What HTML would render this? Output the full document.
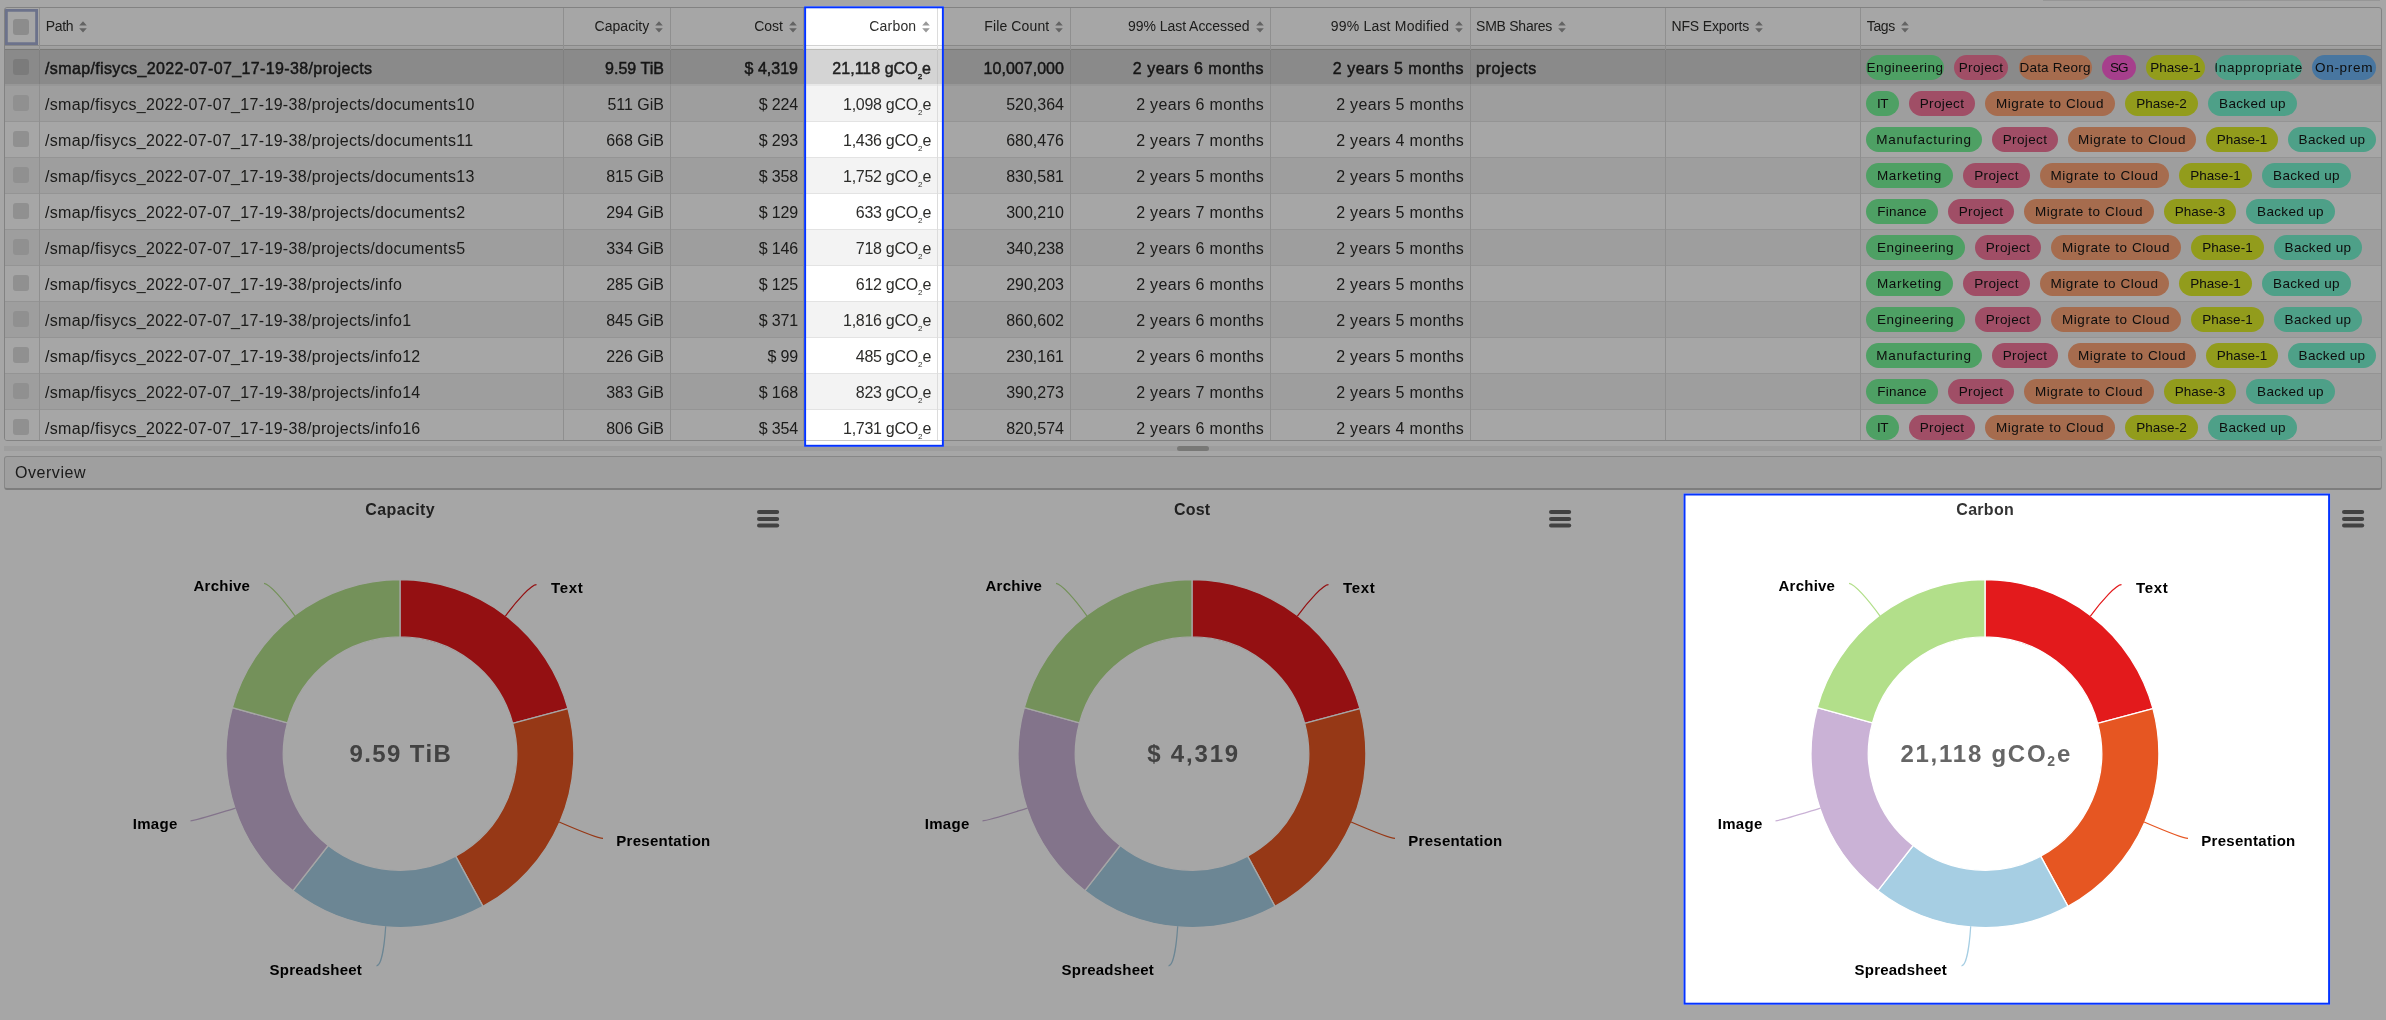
<!DOCTYPE html><html><head><meta charset="utf-8"><title>Overview</title><style>
*{box-sizing:border-box}
html,body{margin:0;padding:0}
body{width:2386px;height:1020px;overflow:hidden;background:#fff;font-family:"Liberation Sans",sans-serif;color:#333;position:relative}
.abs{position:absolute}
.ov{will-change:transform}
#tbl{will-change:transform;position:absolute;left:4px;top:7px;width:2378px;height:434px;border:1px solid #c8c8c8;border-radius:3px;overflow:hidden;background:#fff}
.vl{position:absolute;top:0;bottom:0;width:1px;background:#dcdcdc}
.hl{position:absolute;left:0;right:0;height:1px;background:#e0e0e0}
.row{position:absolute;left:0;right:0;height:36px}
.th{position:absolute;top:0px;height:36px;line-height:36px;font-size:14px;white-space:nowrap;color:#2e2e2c}
.td{position:absolute;top:1px;height:35px;line-height:35px;font-size:16px;white-space:nowrap;color:#2c2c2a;letter-spacing:0.32px}
.r{text-align:right}
.td.cap,.td.fc{letter-spacing:0}
.td.cost{letter-spacing:-0.15px}
.td.carb{letter-spacing:-0.28px}
.sel .td{font-weight:normal;-webkit-text-stroke:0.45px #222;color:#222;letter-spacing:0.37px}
.sel .td.cap{letter-spacing:0.04px}
.sel .td.cost{letter-spacing:0}
.sel .td.carb{letter-spacing:0.02px}
.sel .td.fc{letter-spacing:0.04px}
.sel .td.la,.sel .td.lm{letter-spacing:0.53px}
.sel .td.smb{letter-spacing:0.61px}
.cb{position:absolute;left:8px;width:16px;height:16px;border-radius:3px;background:#e4e4e4}
.si{display:inline-block;vertical-align:middle;width:8px;height:12px;margin-left:6px;position:relative;top:0px}
.tags{position:absolute;left:1861px;display:flex;gap:10px;height:25px}
.tag{height:25px;border-radius:12.5px;font-size:13.5px;line-height:25px;display:flex;justify-content:center;overflow:hidden;white-space:nowrap;color:#141414;flex:none}
sub.c{font-size:8px;vertical-align:baseline;position:relative;top:5px;letter-spacing:0}
</style></head><body>
<div class="abs" style="left:2043px;top:0;width:337px;height:1px;background:#e6e6e6"></div>
<div id="tbl">
<div class="hl" style="top:37px;background:#d2d2d2"></div>
<div class="hl" style="top:38px;height:3px;background:linear-gradient(#fafafa,#f0f0f0)"></div>
<div class="hl" style="top:41px;background:#bcbcb8"></div>
<div class="row sel" style="top:42px;background:#d4d4d4">
<div class="hl" style="top:34px;height:2px;background:#e8e8e8"></div>
<div class="cb" style="top:9px;background:#bebebe"></div>
<div class="td path" style="left:40px">/smap/fisycs_2022-07-07_17-19-38/projects</div>
<div class="td r cap" style="right:1717px">9.59 TiB</div>
<div class="td r cost" style="right:1583px">$ 4,319</div>
<div class="td r carb" style="right:1450px">21,118 gCO<sub class="c">2</sub>e</div>
<div class="td r fc" style="right:1317px">10,007,000</div>
<div class="td r la" style="right:1117px">2 years 6 months</div>
<div class="td r lm" style="right:917px">2 years 5 months</div>
<div class="td smb" style="left:1471px">projects</div>
<div class="tags" style="top:5px">
<div class="tag" style="position:absolute;left:0px;width:78px;background:#78f69a;letter-spacing:0.45px">Engineering</div>
<div class="tag" style="position:absolute;left:88.20000000000005px;width:53.6px;background:#f6789d;letter-spacing:0.37px">Project</div>
<div class="tag" style="position:absolute;left:152.5px;width:73.2px;background:#ffa678;letter-spacing:0.23px">Data Reorg</div>
<div class="tag" style="position:absolute;left:236px;width:33.6px;background:#ff62d7;letter-spacing:-0.9px">SG</div>
<div class="tag" style="position:absolute;left:280px;width:59px;background:#e1f02b;letter-spacing:0.01px">Phase-1</div>
<div class="tag" style="position:absolute;left:349.1999999999998px;width:86.8px;background:#78f6d1;letter-spacing:0.7px">Inappropriate</div>
<div class="tag" style="position:absolute;left:446.3000000000002px;width:63.6px;background:#6fb6f6;letter-spacing:0.68px">On-prem</div>
</div>
</div>
<div class="row" style="top:78px;background:#f3f3f3">
<div class="hl" style="top:35px;background:#e3e3e3"></div>
<div class="cb" style="top:9px;background:#dddddd"></div>
<div class="td path" style="left:40px">/smap/fisycs_2022-07-07_17-19-38/projects/documents10</div>
<div class="td r cap" style="right:1717px">511 GiB</div>
<div class="td r cost" style="right:1583px">$ 224</div>
<div class="td r carb" style="right:1450px">1,098 gCO<sub class="c">2</sub>e</div>
<div class="td r fc" style="right:1317px">520,364</div>
<div class="td r la" style="right:1117px">2 years 6 months</div>
<div class="td r lm" style="right:917px">2 years 5 months</div>
<div class="tags" style="top:5px">
<div class="tag" style="width:33px;background:#78f69a;letter-spacing:-0.5px">IT</div>
<div class="tag" style="width:66px;background:#f6789d;letter-spacing:0.37px">Project</div>
<div class="tag" style="width:130px;background:#ffa678;letter-spacing:0.56px">Migrate to Cloud</div>
<div class="tag" style="width:73px;background:#e1f02b;letter-spacing:0.01px">Phase-2</div>
<div class="tag" style="width:89px;background:#78f6d1;letter-spacing:0.34px">Backed up</div>
</div>
</div>
<div class="row" style="top:114px;background:#fff">
<div class="hl" style="top:35px;background:#e3e3e3"></div>
<div class="cb" style="top:9px;background:#dddddd"></div>
<div class="td path" style="left:40px">/smap/fisycs_2022-07-07_17-19-38/projects/documents11</div>
<div class="td r cap" style="right:1717px">668 GiB</div>
<div class="td r cost" style="right:1583px">$ 293</div>
<div class="td r carb" style="right:1450px">1,436 gCO<sub class="c">2</sub>e</div>
<div class="td r fc" style="right:1317px">680,476</div>
<div class="td r la" style="right:1117px">2 years 7 months</div>
<div class="td r lm" style="right:917px">2 years 4 months</div>
<div class="tags" style="top:5px">
<div class="tag" style="width:116px;background:#78f69a;letter-spacing:0.75px">Manufacturing</div>
<div class="tag" style="width:66px;background:#f6789d;letter-spacing:0.37px">Project</div>
<div class="tag" style="width:128px;background:#ffa678;letter-spacing:0.56px">Migrate to Cloud</div>
<div class="tag" style="width:72px;background:#e1f02b;letter-spacing:0.01px">Phase-1</div>
<div class="tag" style="width:88px;background:#78f6d1;letter-spacing:0.34px">Backed up</div>
</div>
</div>
<div class="row" style="top:150px;background:#f3f3f3">
<div class="hl" style="top:35px;background:#e3e3e3"></div>
<div class="cb" style="top:9px;background:#dddddd"></div>
<div class="td path" style="left:40px">/smap/fisycs_2022-07-07_17-19-38/projects/documents13</div>
<div class="td r cap" style="right:1717px">815 GiB</div>
<div class="td r cost" style="right:1583px">$ 358</div>
<div class="td r carb" style="right:1450px">1,752 gCO<sub class="c">2</sub>e</div>
<div class="td r fc" style="right:1317px">830,581</div>
<div class="td r la" style="right:1117px">2 years 5 months</div>
<div class="td r lm" style="right:917px">2 years 5 months</div>
<div class="tags" style="top:5px">
<div class="tag" style="width:87px;background:#78f69a;letter-spacing:0.64px">Marketing</div>
<div class="tag" style="width:67px;background:#f6789d;letter-spacing:0.37px">Project</div>
<div class="tag" style="width:129px;background:#ffa678;letter-spacing:0.56px">Migrate to Cloud</div>
<div class="tag" style="width:73px;background:#e1f02b;letter-spacing:0.01px">Phase-1</div>
<div class="tag" style="width:89px;background:#78f6d1;letter-spacing:0.34px">Backed up</div>
</div>
</div>
<div class="row" style="top:186px;background:#fff">
<div class="hl" style="top:35px;background:#e3e3e3"></div>
<div class="cb" style="top:9px;background:#dddddd"></div>
<div class="td path" style="left:40px">/smap/fisycs_2022-07-07_17-19-38/projects/documents2</div>
<div class="td r cap" style="right:1717px">294 GiB</div>
<div class="td r cost" style="right:1583px">$ 129</div>
<div class="td r carb" style="right:1450px">633 gCO<sub class="c">2</sub>e</div>
<div class="td r fc" style="right:1317px">300,210</div>
<div class="td r la" style="right:1117px">2 years 7 months</div>
<div class="td r lm" style="right:917px">2 years 5 months</div>
<div class="tags" style="top:5px">
<div class="tag" style="width:72px;background:#78f69a;letter-spacing:0.21px">Finance</div>
<div class="tag" style="width:66px;background:#f6789d;letter-spacing:0.37px">Project</div>
<div class="tag" style="width:130px;background:#ffa678;letter-spacing:0.56px">Migrate to Cloud</div>
<div class="tag" style="width:72px;background:#e1f02b;letter-spacing:0.01px">Phase-3</div>
<div class="tag" style="width:89px;background:#78f6d1;letter-spacing:0.34px">Backed up</div>
</div>
</div>
<div class="row" style="top:222px;background:#f3f3f3">
<div class="hl" style="top:35px;background:#e3e3e3"></div>
<div class="cb" style="top:9px;background:#dddddd"></div>
<div class="td path" style="left:40px">/smap/fisycs_2022-07-07_17-19-38/projects/documents5</div>
<div class="td r cap" style="right:1717px">334 GiB</div>
<div class="td r cost" style="right:1583px">$ 146</div>
<div class="td r carb" style="right:1450px">718 gCO<sub class="c">2</sub>e</div>
<div class="td r fc" style="right:1317px">340,238</div>
<div class="td r la" style="right:1117px">2 years 6 months</div>
<div class="td r lm" style="right:917px">2 years 5 months</div>
<div class="tags" style="top:5px">
<div class="tag" style="width:99px;background:#78f69a;letter-spacing:0.45px">Engineering</div>
<div class="tag" style="width:66px;background:#f6789d;letter-spacing:0.37px">Project</div>
<div class="tag" style="width:130px;background:#ffa678;letter-spacing:0.56px">Migrate to Cloud</div>
<div class="tag" style="width:73px;background:#e1f02b;letter-spacing:0.01px">Phase-1</div>
<div class="tag" style="width:88px;background:#78f6d1;letter-spacing:0.34px">Backed up</div>
</div>
</div>
<div class="row" style="top:258px;background:#fff">
<div class="hl" style="top:35px;background:#e3e3e3"></div>
<div class="cb" style="top:9px;background:#dddddd"></div>
<div class="td path" style="left:40px">/smap/fisycs_2022-07-07_17-19-38/projects/info</div>
<div class="td r cap" style="right:1717px">285 GiB</div>
<div class="td r cost" style="right:1583px">$ 125</div>
<div class="td r carb" style="right:1450px">612 gCO<sub class="c">2</sub>e</div>
<div class="td r fc" style="right:1317px">290,203</div>
<div class="td r la" style="right:1117px">2 years 6 months</div>
<div class="td r lm" style="right:917px">2 years 5 months</div>
<div class="tags" style="top:5px">
<div class="tag" style="width:87px;background:#78f69a;letter-spacing:0.64px">Marketing</div>
<div class="tag" style="width:67px;background:#f6789d;letter-spacing:0.37px">Project</div>
<div class="tag" style="width:129px;background:#ffa678;letter-spacing:0.56px">Migrate to Cloud</div>
<div class="tag" style="width:73px;background:#e1f02b;letter-spacing:0.01px">Phase-1</div>
<div class="tag" style="width:89px;background:#78f6d1;letter-spacing:0.34px">Backed up</div>
</div>
</div>
<div class="row" style="top:294px;background:#f3f3f3">
<div class="hl" style="top:35px;background:#e3e3e3"></div>
<div class="cb" style="top:9px;background:#dddddd"></div>
<div class="td path" style="left:40px">/smap/fisycs_2022-07-07_17-19-38/projects/info1</div>
<div class="td r cap" style="right:1717px">845 GiB</div>
<div class="td r cost" style="right:1583px">$ 371</div>
<div class="td r carb" style="right:1450px">1,816 gCO<sub class="c">2</sub>e</div>
<div class="td r fc" style="right:1317px">860,602</div>
<div class="td r la" style="right:1117px">2 years 6 months</div>
<div class="td r lm" style="right:917px">2 years 5 months</div>
<div class="tags" style="top:5px">
<div class="tag" style="width:99px;background:#78f69a;letter-spacing:0.45px">Engineering</div>
<div class="tag" style="width:66px;background:#f6789d;letter-spacing:0.37px">Project</div>
<div class="tag" style="width:130px;background:#ffa678;letter-spacing:0.56px">Migrate to Cloud</div>
<div class="tag" style="width:73px;background:#e1f02b;letter-spacing:0.01px">Phase-1</div>
<div class="tag" style="width:88px;background:#78f6d1;letter-spacing:0.34px">Backed up</div>
</div>
</div>
<div class="row" style="top:330px;background:#fff">
<div class="hl" style="top:35px;background:#e3e3e3"></div>
<div class="cb" style="top:9px;background:#dddddd"></div>
<div class="td path" style="left:40px">/smap/fisycs_2022-07-07_17-19-38/projects/info12</div>
<div class="td r cap" style="right:1717px">226 GiB</div>
<div class="td r cost" style="right:1583px">$ 99</div>
<div class="td r carb" style="right:1450px">485 gCO<sub class="c">2</sub>e</div>
<div class="td r fc" style="right:1317px">230,161</div>
<div class="td r la" style="right:1117px">2 years 6 months</div>
<div class="td r lm" style="right:917px">2 years 5 months</div>
<div class="tags" style="top:5px">
<div class="tag" style="width:116px;background:#78f69a;letter-spacing:0.75px">Manufacturing</div>
<div class="tag" style="width:66px;background:#f6789d;letter-spacing:0.37px">Project</div>
<div class="tag" style="width:128px;background:#ffa678;letter-spacing:0.56px">Migrate to Cloud</div>
<div class="tag" style="width:72px;background:#e1f02b;letter-spacing:0.01px">Phase-1</div>
<div class="tag" style="width:88px;background:#78f6d1;letter-spacing:0.34px">Backed up</div>
</div>
</div>
<div class="row" style="top:366px;background:#f3f3f3">
<div class="hl" style="top:35px;background:#e3e3e3"></div>
<div class="cb" style="top:9px;background:#dddddd"></div>
<div class="td path" style="left:40px">/smap/fisycs_2022-07-07_17-19-38/projects/info14</div>
<div class="td r cap" style="right:1717px">383 GiB</div>
<div class="td r cost" style="right:1583px">$ 168</div>
<div class="td r carb" style="right:1450px">823 gCO<sub class="c">2</sub>e</div>
<div class="td r fc" style="right:1317px">390,273</div>
<div class="td r la" style="right:1117px">2 years 7 months</div>
<div class="td r lm" style="right:917px">2 years 5 months</div>
<div class="tags" style="top:5px">
<div class="tag" style="width:72px;background:#78f69a;letter-spacing:0.21px">Finance</div>
<div class="tag" style="width:66px;background:#f6789d;letter-spacing:0.37px">Project</div>
<div class="tag" style="width:130px;background:#ffa678;letter-spacing:0.56px">Migrate to Cloud</div>
<div class="tag" style="width:72px;background:#e1f02b;letter-spacing:0.01px">Phase-3</div>
<div class="tag" style="width:89px;background:#78f6d1;letter-spacing:0.34px">Backed up</div>
</div>
</div>
<div class="row" style="top:402px;background:#fff">
<div class="hl" style="top:35px;background:#e3e3e3"></div>
<div class="cb" style="top:9px;background:#dddddd"></div>
<div class="td path" style="left:40px">/smap/fisycs_2022-07-07_17-19-38/projects/info16</div>
<div class="td r cap" style="right:1717px">806 GiB</div>
<div class="td r cost" style="right:1583px">$ 354</div>
<div class="td r carb" style="right:1450px">1,731 gCO<sub class="c">2</sub>e</div>
<div class="td r fc" style="right:1317px">820,574</div>
<div class="td r la" style="right:1117px">2 years 6 months</div>
<div class="td r lm" style="right:917px">2 years 4 months</div>
<div class="tags" style="top:5px">
<div class="tag" style="width:33px;background:#78f69a;letter-spacing:-0.5px">IT</div>
<div class="tag" style="width:66px;background:#f6789d;letter-spacing:0.37px">Project</div>
<div class="tag" style="width:130px;background:#ffa678;letter-spacing:0.56px">Migrate to Cloud</div>
<div class="tag" style="width:73px;background:#e1f02b;letter-spacing:0.01px">Phase-2</div>
<div class="tag" style="width:89px;background:#78f6d1;letter-spacing:0.34px">Backed up</div>
</div>
</div>
<div class="vl" style="left:34px"></div>
<div class="vl" style="left:34px;top:42px;bottom:auto;height:34px;background:#c5c5c5"></div>
<div class="vl" style="left:558px"></div>
<div class="vl" style="left:558px;top:42px;bottom:auto;height:34px;background:#c5c5c5"></div>
<div class="vl" style="left:665px"></div>
<div class="vl" style="left:665px;top:42px;bottom:auto;height:34px;background:#c5c5c5"></div>
<div class="vl" style="left:798px"></div>
<div class="vl" style="left:798px;top:42px;bottom:auto;height:34px;background:#c5c5c5"></div>
<div class="vl" style="left:932px"></div>
<div class="vl" style="left:932px;top:42px;bottom:auto;height:34px;background:#c5c5c5"></div>
<div class="vl" style="left:1065px"></div>
<div class="vl" style="left:1065px;top:42px;bottom:auto;height:34px;background:#c5c5c5"></div>
<div class="vl" style="left:1265px"></div>
<div class="vl" style="left:1265px;top:42px;bottom:auto;height:34px;background:#c5c5c5"></div>
<div class="vl" style="left:1465px"></div>
<div class="vl" style="left:1465px;top:42px;bottom:auto;height:34px;background:#c5c5c5"></div>
<div class="vl" style="left:1660px"></div>
<div class="vl" style="left:1660px;top:42px;bottom:auto;height:34px;background:#c5c5c5"></div>
<div class="vl" style="left:1855px"></div>
<div class="vl" style="left:1855px;top:42px;bottom:auto;height:34px;background:#c5c5c5"></div>
<div class="abs" style="left:0;top:1px;width:33px;height:36px;box-shadow:inset 0 0 0 2.8px #a6b0d6"></div>
<div class="cb" style="top:11px;background:#d7d7d7"></div>
<div class="th hpath" style="left:40.7px"><span class="ht" style="letter-spacing:-0.3px">Path</span><svg class="si" viewBox="0 0 8 12"><path d="M0.2 4.6 L4 0.3 L7.8 4.6 Z M0.2 7.2 L7.8 7.2 L4 11.6 Z" fill="#999"/></svg></div>
<div class="th r hcap" style="right:1717.7px"><span class="ht" style="letter-spacing:0.04px">Capacity</span><svg class="si" viewBox="0 0 8 12"><path d="M0.2 4.6 L4 0.3 L7.8 4.6 Z M0.2 7.2 L7.8 7.2 L4 11.6 Z" fill="#999"/></svg></div>
<div class="th r hcost" style="right:1584px"><span class="ht" style="letter-spacing:0px">Cost</span><svg class="si" viewBox="0 0 8 12"><path d="M0.2 4.6 L4 0.3 L7.8 4.6 Z M0.2 7.2 L7.8 7.2 L4 11.6 Z" fill="#999"/></svg></div>
<div class="th r hcarb" style="right:1450.7px"><span class="ht" style="letter-spacing:0.18px">Carbon</span><svg class="si" viewBox="0 0 8 12"><path d="M0.2 4.6 L4 0.3 L7.8 4.6 Z M0.2 7.2 L7.8 7.2 L4 11.6 Z" fill="#999"/></svg></div>
<div class="th r hfc" style="right:1317.7px"><span class="ht" style="letter-spacing:0.12px">File Count</span><svg class="si" viewBox="0 0 8 12"><path d="M0.2 4.6 L4 0.3 L7.8 4.6 Z M0.2 7.2 L7.8 7.2 L4 11.6 Z" fill="#999"/></svg></div>
<div class="th r hla" style="right:1117.5px"><span class="ht" style="letter-spacing:-0.04px">99% Last Accessed</span><svg class="si" viewBox="0 0 8 12"><path d="M0.2 4.6 L4 0.3 L7.8 4.6 Z M0.2 7.2 L7.8 7.2 L4 11.6 Z" fill="#999"/></svg></div>
<div class="th r hlm" style="right:917.7px"><span class="ht" style="letter-spacing:0.2px">99% Last Modified</span><svg class="si" viewBox="0 0 8 12"><path d="M0.2 4.6 L4 0.3 L7.8 4.6 Z M0.2 7.2 L7.8 7.2 L4 11.6 Z" fill="#999"/></svg></div>
<div class="th hsmb" style="left:1471.1px"><span class="ht" style="letter-spacing:-0.26px">SMB Shares</span><svg class="si" viewBox="0 0 8 12"><path d="M0.2 4.6 L4 0.3 L7.8 4.6 Z M0.2 7.2 L7.8 7.2 L4 11.6 Z" fill="#999"/></svg></div>
<div class="th hnfs" style="left:1666.5px"><span class="ht" style="letter-spacing:-0.15px">NFS Exports</span><svg class="si" viewBox="0 0 8 12"><path d="M0.2 4.6 L4 0.3 L7.8 4.6 Z M0.2 7.2 L7.8 7.2 L4 11.6 Z" fill="#999"/></svg></div>
<div class="th htags" style="left:1861.8px"><span class="ht" style="letter-spacing:-0.4px">Tags</span><svg class="si" viewBox="0 0 8 12"><path d="M0.2 4.6 L4 0.3 L7.8 4.6 Z M0.2 7.2 L7.8 7.2 L4 11.6 Z" fill="#999"/></svg></div>
</div>
<div class="abs" style="left:4px;top:446px;width:2378px;height:5px;background:#f2f2f2"></div>
<div class="abs" style="left:1177px;top:446px;width:32px;height:5px;border-radius:2.5px;background:#b9b9b6"></div>
<div class="abs" style="left:4px;top:456px;width:2378px;height:34px;border:1px solid #d0d0d0;border-bottom:2px solid #c0c0c0;border-radius:3px;background:#f4f4f4"></div>
<div class="abs ov" style="left:15px;top:457px;height:31px;line-height:31px;font-size:16px;color:#2a2a2a;letter-spacing:0.55px">Overview</div>
<svg class="abs" style="left:0;top:0" width="2386" height="1020" viewBox="0 0 2386 1020" font-family="Liberation Sans, sans-serif">
<path d="M400.00 579.70 A173.9 173.9 0 0 1 567.97 708.59 L512.68 723.41 A116.65 116.65 0 0 0 400.00 636.95 Z" fill="#e31a1c" stroke="#fff" stroke-width="1.3" stroke-linejoin="round"/>
<path d="M567.97 708.59 A173.9 173.9 0 0 1 482.98 906.43 L455.66 856.11 A116.65 116.65 0 0 0 512.68 723.41 Z" fill="#e65622" stroke="#fff" stroke-width="1.3" stroke-linejoin="round"/>
<path d="M482.98 906.43 A173.9 173.9 0 0 1 292.94 890.64 L328.18 845.52 A116.65 116.65 0 0 0 455.66 856.11 Z" fill="#a6cee3" stroke="#fff" stroke-width="1.3" stroke-linejoin="round"/>
<path d="M292.94 890.64 A173.9 173.9 0 0 1 232.26 707.71 L287.48 722.82 A116.65 116.65 0 0 0 328.18 845.52 Z" fill="#cab2d6" stroke="#fff" stroke-width="1.3" stroke-linejoin="round"/>
<path d="M232.26 707.71 A173.9 173.9 0 0 1 400.00 579.70 L400.00 636.95 A116.65 116.65 0 0 0 287.48 722.82 Z" fill="#b2df8a" stroke="#fff" stroke-width="1.3" stroke-linejoin="round"/>
<path d="M536.5 584.6 C531.5 584.6 517.0 600.0 505.4 616.2" fill="none" stroke="#e31a1c" stroke-width="1.25"/>
<path d="M603.0 838.4 C598.0 838.4 577.0 829.7 559.1 822.0" fill="none" stroke="#e65622" stroke-width="1.25"/>
<path d="M376.5 965.8 C381.5 965.8 384.5 945.0 385.7 926.2" fill="none" stroke="#a6cee3" stroke-width="1.25"/>
<path d="M190.5 820.8 C195.5 820.8 218.0 813.5 235.6 808.1" fill="none" stroke="#cab2d6" stroke-width="1.25"/>
<path d="M264.0 583.3 C269.0 583.3 283.5 600.0 294.9 615.9" fill="none" stroke="#b2df8a" stroke-width="1.25"/>
<text x="551.0" y="593.0" text-anchor="start" font-size="15" font-weight="bold" fill="#000" letter-spacing="0.65" class="dl">Text</text>
<text x="616.3" y="846.0" text-anchor="start" font-size="15" font-weight="bold" fill="#000" letter-spacing="0.28" class="dl">Presentation</text>
<text x="362.0" y="975.3" text-anchor="end" font-size="15" font-weight="bold" fill="#000" letter-spacing="0.22" class="dl">Spreadsheet</text>
<text x="177.8" y="829.2" text-anchor="end" font-size="15" font-weight="bold" fill="#000" letter-spacing="0.36" class="dl">Image</text>
<text x="250.2" y="590.8" text-anchor="end" font-size="15" font-weight="bold" fill="#000" letter-spacing="0.23" class="dl">Archive</text>
<text x="400.2" y="515.0" text-anchor="middle" font-size="16" font-weight="bold" fill="#333" letter-spacing="0.37" class="ct">Capacity</text>
<text x="400.8" y="761.9" text-anchor="middle" font-size="24" font-weight="bold" fill="#666" letter-spacing="1.4" class="cc">9.59 TiB</text>
<path d="M759.0 512.0H777.2" stroke="#666" stroke-width="4" stroke-linecap="round" fill="none"/>
<path d="M759.0 518.9H777.2" stroke="#666" stroke-width="4" stroke-linecap="round" fill="none"/>
<path d="M759.0 525.4H777.2" stroke="#666" stroke-width="4" stroke-linecap="round" fill="none"/>
<path d="M1192.00 579.70 A173.9 173.9 0 0 1 1359.97 708.59 L1304.68 723.41 A116.65 116.65 0 0 0 1192.00 636.95 Z" fill="#e31a1c" stroke="#fff" stroke-width="1.3" stroke-linejoin="round"/>
<path d="M1359.97 708.59 A173.9 173.9 0 0 1 1274.98 906.43 L1247.66 856.11 A116.65 116.65 0 0 0 1304.68 723.41 Z" fill="#e65622" stroke="#fff" stroke-width="1.3" stroke-linejoin="round"/>
<path d="M1274.98 906.43 A173.9 173.9 0 0 1 1084.94 890.64 L1120.18 845.52 A116.65 116.65 0 0 0 1247.66 856.11 Z" fill="#a6cee3" stroke="#fff" stroke-width="1.3" stroke-linejoin="round"/>
<path d="M1084.94 890.64 A173.9 173.9 0 0 1 1024.26 707.71 L1079.48 722.82 A116.65 116.65 0 0 0 1120.18 845.52 Z" fill="#cab2d6" stroke="#fff" stroke-width="1.3" stroke-linejoin="round"/>
<path d="M1024.26 707.71 A173.9 173.9 0 0 1 1192.00 579.70 L1192.00 636.95 A116.65 116.65 0 0 0 1079.48 722.82 Z" fill="#b2df8a" stroke="#fff" stroke-width="1.3" stroke-linejoin="round"/>
<path d="M1328.5 584.6 C1323.5 584.6 1309.0 600.0 1297.4 616.2" fill="none" stroke="#e31a1c" stroke-width="1.25"/>
<path d="M1395.0 838.4 C1390.0 838.4 1369.0 829.7 1351.1 822.0" fill="none" stroke="#e65622" stroke-width="1.25"/>
<path d="M1168.5 965.8 C1173.5 965.8 1176.5 945.0 1177.7 926.2" fill="none" stroke="#a6cee3" stroke-width="1.25"/>
<path d="M982.5 820.8 C987.5 820.8 1010.0 813.5 1027.6 808.1" fill="none" stroke="#cab2d6" stroke-width="1.25"/>
<path d="M1056.0 583.3 C1061.0 583.3 1075.5 600.0 1086.9 615.9" fill="none" stroke="#b2df8a" stroke-width="1.25"/>
<text x="1343.0" y="593.0" text-anchor="start" font-size="15" font-weight="bold" fill="#000" letter-spacing="0.65" class="dl">Text</text>
<text x="1408.3" y="846.0" text-anchor="start" font-size="15" font-weight="bold" fill="#000" letter-spacing="0.28" class="dl">Presentation</text>
<text x="1154.0" y="975.3" text-anchor="end" font-size="15" font-weight="bold" fill="#000" letter-spacing="0.22" class="dl">Spreadsheet</text>
<text x="969.8" y="829.2" text-anchor="end" font-size="15" font-weight="bold" fill="#000" letter-spacing="0.36" class="dl">Image</text>
<text x="1042.2" y="590.8" text-anchor="end" font-size="15" font-weight="bold" fill="#000" letter-spacing="0.23" class="dl">Archive</text>
<text x="1192.1" y="515.0" text-anchor="middle" font-size="16" font-weight="bold" fill="#333" letter-spacing="0.17" class="ct">Cost</text>
<text x="1193.6" y="761.9" text-anchor="middle" font-size="24" font-weight="bold" fill="#666" letter-spacing="1.8" class="cc">$ 4,319</text>
<path d="M1551.0 512.0H1569.2" stroke="#666" stroke-width="4" stroke-linecap="round" fill="none"/>
<path d="M1551.0 518.9H1569.2" stroke="#666" stroke-width="4" stroke-linecap="round" fill="none"/>
<path d="M1551.0 525.4H1569.2" stroke="#666" stroke-width="4" stroke-linecap="round" fill="none"/>
<path d="M1985.00 579.70 A173.9 173.9 0 0 1 2152.97 708.59 L2097.68 723.41 A116.65 116.65 0 0 0 1985.00 636.95 Z" fill="#e31a1c" stroke="#fff" stroke-width="1.3" stroke-linejoin="round"/>
<path d="M2152.97 708.59 A173.9 173.9 0 0 1 2067.98 906.43 L2040.66 856.11 A116.65 116.65 0 0 0 2097.68 723.41 Z" fill="#e65622" stroke="#fff" stroke-width="1.3" stroke-linejoin="round"/>
<path d="M2067.98 906.43 A173.9 173.9 0 0 1 1877.94 890.64 L1913.18 845.52 A116.65 116.65 0 0 0 2040.66 856.11 Z" fill="#a6cee3" stroke="#fff" stroke-width="1.3" stroke-linejoin="round"/>
<path d="M1877.94 890.64 A173.9 173.9 0 0 1 1817.26 707.71 L1872.48 722.82 A116.65 116.65 0 0 0 1913.18 845.52 Z" fill="#cab2d6" stroke="#fff" stroke-width="1.3" stroke-linejoin="round"/>
<path d="M1817.26 707.71 A173.9 173.9 0 0 1 1985.00 579.70 L1985.00 636.95 A116.65 116.65 0 0 0 1872.48 722.82 Z" fill="#b2df8a" stroke="#fff" stroke-width="1.3" stroke-linejoin="round"/>
<path d="M2121.5 584.6 C2116.5 584.6 2102.0 600.0 2090.4 616.2" fill="none" stroke="#e31a1c" stroke-width="1.25"/>
<path d="M2188.0 838.4 C2183.0 838.4 2162.0 829.7 2144.1 822.0" fill="none" stroke="#e65622" stroke-width="1.25"/>
<path d="M1961.5 965.8 C1966.5 965.8 1969.5 945.0 1970.7 926.2" fill="none" stroke="#a6cee3" stroke-width="1.25"/>
<path d="M1775.5 820.8 C1780.5 820.8 1803.0 813.5 1820.6 808.1" fill="none" stroke="#cab2d6" stroke-width="1.25"/>
<path d="M1849.0 583.3 C1854.0 583.3 1868.5 600.0 1879.9 615.9" fill="none" stroke="#b2df8a" stroke-width="1.25"/>
<text x="2136.0" y="593.0" text-anchor="start" font-size="15" font-weight="bold" fill="#000" letter-spacing="0.65" class="dl">Text</text>
<text x="2201.3" y="846.0" text-anchor="start" font-size="15" font-weight="bold" fill="#000" letter-spacing="0.28" class="dl">Presentation</text>
<text x="1947.0" y="975.3" text-anchor="end" font-size="15" font-weight="bold" fill="#000" letter-spacing="0.22" class="dl">Spreadsheet</text>
<text x="1762.8" y="829.2" text-anchor="end" font-size="15" font-weight="bold" fill="#000" letter-spacing="0.36" class="dl">Image</text>
<text x="1835.2" y="590.8" text-anchor="end" font-size="15" font-weight="bold" fill="#000" letter-spacing="0.23" class="dl">Archive</text>
<text x="1985.2" y="515.0" text-anchor="middle" font-size="16" font-weight="bold" fill="#333" letter-spacing="0.3" class="ct">Carbon</text>
<text x="1986.2" y="761.9" text-anchor="middle" font-size="24" font-weight="bold" fill="#666" letter-spacing="1.75" class="cc">21,118 gCO<tspan font-size="14" dy="3.6">2</tspan><tspan dy="-3.6">e</tspan></text>
<path d="M2344.0 512.0H2362.2" stroke="#666" stroke-width="4" stroke-linecap="round" fill="none"/>
<path d="M2344.0 518.9H2362.2" stroke="#666" stroke-width="4" stroke-linecap="round" fill="none"/>
<path d="M2344.0 525.4H2362.2" stroke="#666" stroke-width="4" stroke-linecap="round" fill="none"/>
</svg>
<svg class="abs" style="left:0;top:0" width="2386" height="1020" viewBox="0 0 2386 1020">
<path fill-rule="evenodd" fill="rgba(0,0,0,0.35)" d="M0 0H2386V1020H0Z M804.1 6.3H943.9V446.8H804.1Z M1683.5 493.5H2330.1V1004.7H1683.5Z"/>
<rect x="805.1" y="7.3" width="137.79999999999995" height="438.5" fill="none" stroke="#0433ff" stroke-width="2"/>
<rect x="1684.5" y="494.5" width="644.5999999999999" height="509.20000000000005" fill="none" stroke="#0433ff" stroke-width="2"/>
</svg>
</body></html>
